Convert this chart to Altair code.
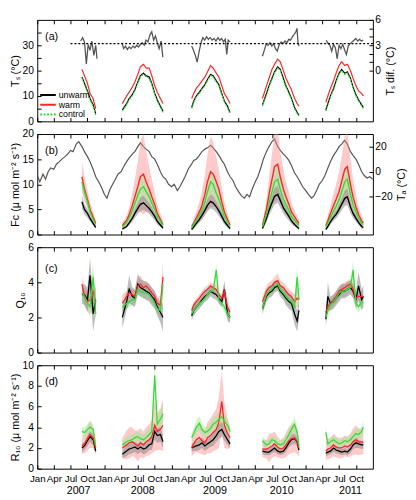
import altair as alt
import pandas as pd

# ---------------- data ----------------
SEASON_DATES = [
    "2007-09-01", "2007-09-15", "2007-10-01", "2007-10-15", "2007-11-01", "2007-11-15",
    "2008-04-08", "2008-05-01", "2008-05-15", "2008-06-01", "2008-06-15", "2008-07-01", "2008-07-15",
    "2008-08-01", "2008-08-15", "2008-09-01", "2008-09-15", "2008-10-01", "2008-10-15", "2008-11-01", "2008-11-15",
    "2009-04-20", "2009-05-01", "2009-05-15", "2009-06-01", "2009-06-15", "2009-07-01", "2009-07-15",
    "2009-08-01", "2009-08-15", "2009-09-01", "2009-09-15", "2009-10-01", "2009-10-15", "2009-11-01", "2009-11-15",
    "2010-05-10", "2010-06-01", "2010-06-15", "2010-07-01", "2010-07-15", "2010-08-01", "2010-08-15",
    "2010-09-01", "2010-09-15", "2010-10-01", "2010-10-15", "2010-11-01", "2010-11-15", "2010-11-25",
    "2011-04-20", "2011-05-01", "2011-05-15", "2011-06-01", "2011-06-15", "2011-07-01", "2011-07-15",
    "2011-08-01", "2011-08-15", "2011-09-01", "2011-09-15", "2011-10-01", "2011-10-15", "2011-11-01", "2011-11-10",
]

# (a) soil temperature
TS_WARM = [20.5, 18, 15, 11, 9, 5,
           7, 10, 11.5, 13.5, 15.5, 18.5, 21.5, 22.5, 21, 21, 18, 14, 11.5, 9, 7,
           9, 11, 13, 14.5, 16, 17.5, 19.5, 22, 21, 19, 17.5, 14, 11, 9, 7,
           9, 14, 17, 20.5, 22.5, 24.5, 23.5, 20, 17, 14.5, 12.5, 9, 7, 6,
           7.5, 10, 13, 16, 19, 22, 23.5, 22, 22.5, 20, 17, 14, 12, 11, 10]
TS_UNWARM = [17.5, 15, 12, 9, 6.5, 3,
             4.5, 7, 9, 10.5, 12.5, 15.5, 18, 19, 18, 17.5, 15, 11, 8.5, 6, 4,
             5.5, 8, 10, 11.5, 13, 14.5, 16.5, 18.5, 18, 16, 14.5, 11, 8, 6, 3.5,
             6.5, 11, 14, 17, 19.5, 21.5, 20.5, 17, 14, 11.5, 9, 5.5, 3.5, 2.5,
             4.5, 7, 10, 13, 16, 19, 20.5, 19, 19.5, 17, 13.5, 10.5, 8.5, 6.5, 5.5]
TS_CONTROL = [17, 14.5, 11.5, 8.5, 6, 2.5,
              4, 6.5, 8.5, 10, 12, 15, 17.5, 18.5, 17.5, 17, 14.5, 10.5, 8, 5.5, 3.5,
              5, 7.5, 9.5, 11, 12.5, 14, 16, 18, 17.5, 15.5, 14, 10.5, 7.5, 5.5, 3,
              6, 10.5, 13.5, 16.5, 19, 21, 20, 16.5, 13.5, 11, 8.5, 5, 3, 2,
              4, 6.5, 9.5, 12.5, 15.5, 18.5, 20, 18.5, 19, 16.5, 13, 10, 8, 6, 5]

TSDIF_DATES = [
    "2007-08-25", "2007-09-05", "2007-09-15", "2007-09-25", "2007-10-05", "2007-10-15", "2007-10-25",
    "2007-11-05", "2007-11-15", "2007-11-22",
    "2008-04-06", "2008-04-15", "2008-04-25", "2008-05-05", "2008-05-15", "2008-05-25", "2008-06-05",
    "2008-06-15", "2008-06-25", "2008-07-05", "2008-07-15", "2008-07-25", "2008-08-05", "2008-08-15",
    "2008-08-25", "2008-09-05", "2008-09-15", "2008-09-25", "2008-10-05", "2008-10-15", "2008-10-25",
    "2008-11-05", "2008-11-14",
    "2009-04-20", "2009-04-30", "2009-05-10", "2009-05-20", "2009-05-30", "2009-06-10", "2009-06-20",
    "2009-06-30", "2009-07-10", "2009-07-20", "2009-07-30", "2009-08-10", "2009-08-20", "2009-08-30",
    "2009-09-10", "2009-09-20", "2009-09-30", "2009-10-10", "2009-10-20", "2009-10-28", "2009-11-05",
    "2009-11-15",
    "2010-05-10", "2010-05-20", "2010-05-30", "2010-06-10", "2010-06-20", "2010-06-30", "2010-07-10",
    "2010-07-20", "2010-07-30", "2010-08-10", "2010-08-20", "2010-08-30", "2010-09-10", "2010-09-20",
    "2010-09-30", "2010-10-10", "2010-10-20", "2010-10-30", "2010-11-08", "2010-11-14", "2010-11-20",
    "2010-11-26",
    "2011-04-22", "2011-05-02", "2011-05-12", "2011-05-22", "2011-06-01", "2011-06-11", "2011-06-21",
    "2011-07-01", "2011-07-11", "2011-07-21", "2011-08-01", "2011-08-10", "2011-08-20", "2011-08-30",
    "2011-09-10", "2011-09-20", "2011-09-30", "2011-10-10", "2011-10-20", "2011-10-30", "2011-11-09",
]
TSDIF_VALUES = [
    3.5, 3.9, 3.4, 0.8, 3.1, 2.4, 3.5, 1.8, 3.0, 1.4,
    3.3, 2.6, 2.9, 2.5, 2.8, 2.6, 2.9, 2.7, 3.0, 2.8, 3.1, 3.3, 3.0, 3.6, 3.4, 4.2, 4.6, 3.6, 4.1,
    3.3, 2.6, 3.5, 1.6,
    2.9, 2.4, 1.8, 1.0, 2.2, 3.3, 3.9, 3.6, 4.0, 3.7, 3.9, 3.6, 3.8, 3.5, 3.9, 3.6, 3.8, 3.4, 3.7,
    1.9, 3.6, 3.4,
    1.7, 2.4, 3.1, 3.0, 3.3, 2.9, 3.2, 2.6, 2.3, 3.1, 3.4, 3.2, 3.5, 3.3, 3.7, 3.6, 4.0, 4.3, 4.6,
    5.0, 3.2, 2.9,
    3.6, 3.2, 3.0, 2.3, 3.1, 2.7, 1.4, 3.0, 2.6, 3.1, 2.4, 1.9, 2.9, 3.2, 3.4, 3.6, 3.8, 3.5, 3.7,
    3.5, 3.6,
]
DOTTED_LEVEL = 3.2
DOTTED_FROM = "2007-07-01"
DOTTED_TO = "2012-01-01"

# (b) CO2 efflux and air temperature
FC_WARM = [11.5, 9, 7, 5, 3.5, 2.2,
           1.8, 2.8, 4, 5.8, 7.5, 9.5, 11.5, 12, 10.5, 9, 7.5, 6, 4.2, 3, 2,
           1.6, 2.3, 3.3, 4.5, 5.8, 8, 10.5, 12.5, 12, 10.5, 9, 6.5, 4.5, 3, 1.9,
           1.8, 5, 8, 11, 13.5, 14, 11.5, 9, 7.5, 6, 4.5, 3.5, 2.7, 2.2,
           1.8, 2.8, 4.2, 5.8, 7, 8.5, 10.5, 13, 13.5, 10, 7.5, 5.5, 4, 2.7, 2.3]
FC_CONTROL = [10.5, 8.5, 6.5, 4.5, 3, 2,
              1.5, 2.4, 3.3, 4.8, 6.2, 7.8, 9, 9.5, 8.6, 7.5, 6.3, 5, 3.6, 2.6, 1.8,
              1.3, 2, 2.8, 3.8, 4.8, 6.5, 8.5, 10.5, 10, 8.2, 7, 5.2, 3.6, 2.5, 1.6,
              1.5, 4, 6.2, 8.5, 10.5, 11, 9, 7, 6, 4.8, 3.6, 2.8, 2.2, 1.8,
              1.5, 2.3, 3.4, 4.6, 5.6, 6.9, 8.5, 10.5, 11, 8, 6, 4.5, 3.3, 2.3, 2]
FC_UNWARM = [6.5, 5, 4.2, 3.2, 2.2, 1.4,
             1.1, 1.6, 2.3, 3.2, 4.2, 5.2, 6, 6.3, 5.8, 5.2, 4.5, 3.6, 2.6, 1.9, 1.3,
             1.0, 1.5, 2.2, 3, 3.8, 4.8, 5.8, 6.6, 6.3, 5.5, 4.7, 3.6, 2.6, 1.8, 1.2,
             1.2, 3.2, 4.8, 6.3, 7.6, 8, 6.8, 5.3, 4.5, 3.6, 2.7, 2, 1.5, 1.2,
             1.0, 1.6, 2.5, 3.4, 4, 5, 6, 7.2, 7.5, 5.5, 4.2, 3.2, 2.4, 1.6, 1.4]
FC_WARM_ERR = [3, 2.5, 2, 1.5, 1, 0.6,
               0.6, 1, 1.5, 2.5, 3.5, 5, 7, 8, 6, 4.5, 3.5, 2.5, 1.8, 1.2, 0.8,
               0.5, 0.8, 1.2, 2, 2.8, 4, 5.5, 7, 6.5, 5, 4, 2.8, 2, 1.2, 0.7,
               0.6, 2, 3.5, 5, 7, 7, 5, 4, 3, 2.5, 1.8, 1.3, 1, 0.8,
               0.6, 1, 1.6, 2.4, 3, 4, 5, 6.5, 7, 5, 3.5, 2.5, 1.6, 1, 0.8]
FC_CONTROL_ERR = [1.8, 1.4, 1, 0.8, 0.5, 0.3,
                  0.3, 0.5, 0.7, 1, 1.4, 1.8, 2.2, 2.4, 2, 1.7, 1.4, 1.1, 0.8, 0.5, 0.4,
                  0.3, 0.4, 0.6, 0.8, 1.1, 1.5, 2, 2.6, 2.4, 2, 1.6, 1.2, 0.8, 0.5, 0.3,
                  0.3, 0.9, 1.4, 2, 2.5, 2.6, 2.1, 1.6, 1.3, 1.1, 0.8, 0.6, 0.5, 0.4,
                  0.3, 0.5, 0.8, 1, 1.3, 1.6, 2, 2.5, 2.6, 1.8, 1.3, 1, 0.7, 0.5, 0.4]
FC_UNWARM_ERR = [1.3, 1, 0.8, 0.6, 0.4, 0.3,
                 0.2, 0.3, 0.5, 0.7, 0.9, 1.1, 1.3, 1.4, 1.2, 1.1, 1, 0.8, 0.6, 0.4, 0.3,
                 0.2, 0.3, 0.5, 0.6, 0.8, 1, 1.2, 1.4, 1.3, 1.1, 1, 0.8, 0.6, 0.4, 0.3,
                 0.3, 0.7, 1, 1.3, 1.6, 1.7, 1.4, 1.1, 1, 0.8, 0.6, 0.4, 0.3, 0.3,
                 0.2, 0.4, 0.5, 0.7, 0.8, 1, 1.2, 1.5, 1.6, 1.2, 0.9, 0.7, 0.5, 0.4, 0.3]

TA_DATES = [f"{y}-{m:02d}-{d:02d}" for y in range(2007, 2012) for m in range(1, 13) for d in (1, 15)] + ["2011-12-31"]
TA_VALUES = [
    -3, -8, -2, -6, 0, 3, 2, 6, 8, 10, 12, 14, 17, 16, 22, 24, 20, 16, 12, 8, 2, -4, -8, -12,
    -18, -21, -14, -10, -6, -2, 0, 4, 8, 11, 14, 16, 20, 23, 20, 18, 16, 12, 10, 6, 0, -4, -6, -10,
    -12, -10, -15, -12, -8, -4, 2, 5, 9, 10, 13, 16, 18, 19, 21, 19, 16, 13, 9, 6, 0, -4, -7, -12,
    -16, -19, -21, -18, -20, -14, -8, -4, 3, 10, 16, 20, 24, 26, 20, 17, 14, 12, 9, 5, -1, -4, -8, -12,
    -15, -18, -21, -19, -15, -10, -7, -3, 3, 8, 13, 16, 20, 22, 25, 22, 16, 13, 10, 6, 0, -3, -5, -4,
    -6,
]

# (c) Q10
Q_WARM = [3.9, 3.2, 2.9, 3.0, 3.5, 2.8,
          2.8, 3.2, 3.4, 3.3, 3.2, 3.8, 3.9, 3.7, 3.8, 3.6, 3.4, 3.2, 2.8, 2.7, 4.3,
          2.4, 2.7, 2.9, 3.1, 3.3, 3.5, 3.6, 3.8, 3.7, 3.6, 3.3, 3.1, 3.5, 2.6, 2.3,
          2.9, 3.5, 3.7, 3.8, 4.0, 4.1, 3.8, 3.7, 3.5, 3.3, 3.2, 2.9, 3.1, 3.0,
          2.3, 2.6, 2.8, 3.0, 3.2, 3.5, 3.6, 3.7, 3.8, 3.9, 3.6, 3.1, 3.2, 3.2, 3.2]
Q_CONTROL = [3.4, 3.2, 2.8, 2.6, 4.3, 2.2,
             2.6, 2.8, 2.9, 3.0, 3.0, 3.6, 3.5, 3.4, 3.4, 3.3, 3.1, 2.8, 2.5, 2.4, 3.9,
             2.2, 2.4, 2.6, 2.8, 2.9, 3.1, 3.3, 3.5, 3.5, 4.7, 3.0, 2.8, 2.6, 2.2, 2.0,
             2.5, 3.3, 3.5, 3.6, 3.8, 3.9, 3.6, 3.4, 3.2, 3.0, 2.9, 2.6, 4.3, 3.0,
             2.0, 2.4, 2.7, 2.9, 3.1, 3.4, 3.5, 3.5, 3.6, 3.7, 4.7, 2.8, 2.6, 2.9, 2.8]
Q_UNWARM = [3.3, 3.3, 3.0, 4.4, 2.2, 3.0,
            2.0, 2.9, 3.6, 3.2, 3.1, 3.9, 3.7, 3.6, 3.5, 3.4, 3.2, 3.0, 2.6, 2.3, 2.0,
            2.1, 2.4, 2.6, 2.8, 3.0, 3.2, 3.3, 3.5, 3.4, 3.3, 3.1, 2.9, 3.6, 2.2, 2.0,
            2.5, 3.2, 3.4, 3.5, 3.7, 3.8, 3.5, 3.3, 3.1, 2.9, 2.8, 2.2, 1.8, 2.4,
            1.9, 3.2, 2.8, 2.9, 3.1, 3.3, 3.5, 3.5, 3.6, 3.7, 3.5, 3.0, 3.8, 3.0, 3.2]
Q_WARM_ERR = [0.4, 0.5, 0.5, 0.8, 1.0, 0.6,
              0.5, 0.3, 0.3, 0.3, 0.3, 0.4, 0.5, 0.3, 0.3, 0.3, 0.3, 0.3, 0.4, 0.5, 0.9,
              0.2, 0.2, 0.2, 0.2, 0.2, 0.2, 0.2, 0.2, 0.2, 0.3, 0.2, 0.2, 0.4, 0.3, 0.3,
              0.3, 0.3, 0.3, 0.3, 0.3, 0.4, 0.3, 0.3, 0.3, 0.3, 0.3, 0.4, 0.5, 0.4,
              0.3, 0.3, 0.3, 0.3, 0.3, 0.3, 0.3, 0.3, 0.3, 0.3, 0.4, 0.3, 0.3, 0.3, 0.3]
Q_CONTROL_ERR = [0.3, 0.4, 0.4, 0.6, 0.8, 0.5,
                 0.4, 0.3, 0.3, 0.3, 0.3, 0.3, 0.3, 0.3, 0.3, 0.3, 0.3, 0.3, 0.3, 0.4, 0.6,
                 0.2, 0.2, 0.2, 0.2, 0.2, 0.2, 0.2, 0.2, 0.2, 0.4, 0.2, 0.2, 0.3, 0.3, 0.3,
                 0.3, 0.3, 0.3, 0.3, 0.3, 0.3, 0.3, 0.3, 0.3, 0.3, 0.3, 0.4, 0.6, 0.4,
                 0.3, 0.3, 0.3, 0.3, 0.3, 0.3, 0.3, 0.3, 0.3, 0.3, 0.6, 0.3, 0.3, 0.3, 0.3]
Q_UNWARM_ERR = [0.5, 0.6, 0.7, 1.0, 1.0, 0.8,
                0.6, 0.5, 0.8, 0.5, 0.5, 0.6, 0.5, 0.5, 0.5, 0.5, 0.5, 0.5, 0.5, 0.6, 0.8,
                0.3, 0.3, 0.3, 0.3, 0.3, 0.3, 0.3, 0.3, 0.3, 0.3, 0.3, 0.3, 0.5, 0.4, 0.3,
                0.3, 0.3, 0.3, 0.3, 0.3, 0.3, 0.3, 0.3, 0.4, 0.4, 0.4, 0.6, 0.6, 0.5,
                0.4, 0.8, 0.4, 0.4, 0.4, 0.4, 0.4, 0.4, 0.4, 0.4, 0.4, 0.5, 0.8, 0.6, 0.6]

# (d) R10
R_WARM = [2.2, 2.4, 2.9, 3.3, 3.0, 2.0,
          2.0, 2.3, 2.5, 2.6, 2.4, 2.2, 2.5, 2.3, 2.6, 2.8, 3.1, 4.2, 3.6, 3.8, 4.2,
          2.0, 2.4, 2.8, 3.0, 2.7, 2.5, 3.0, 3.2, 3.5, 3.8, 4.5, 6.5, 4.2, 3.4, 3.0,
          1.9, 1.9, 2.0, 2.2, 2.4, 2.1, 1.9, 2.0, 2.3, 2.7, 2.9, 3.0, 2.6, 2.0,
          1.7, 1.9, 2.0, 2.3, 2.1, 2.0, 2.0, 2.2, 2.1, 2.3, 2.6, 2.8, 2.6, 2.6, 2.5]
R_CONTROL = [3.6, 3.5, 3.8, 4.0, 3.8, 2.2,
             2.3, 2.6, 2.7, 2.8, 3.0, 3.1, 2.9, 2.8, 3.0, 3.3, 3.6, 9.0, 4.3, 4.8, 5.3,
             3.0, 3.4, 4.0, 4.4, 3.8, 3.5, 3.6, 3.9, 4.3, 4.5, 4.8, 5.0, 4.6, 4.2, 3.6,
             2.7, 2.3, 2.4, 2.8, 2.7, 2.4, 2.3, 2.4, 2.8, 3.3, 3.8, 4.3, 3.5, 2.2,
             3.5, 2.4, 2.6, 2.8, 2.6, 2.4, 2.5, 2.7, 2.6, 2.8, 3.1, 3.4, 3.3, 3.6, 4.0]
R_UNWARM = [2.0, 2.2, 2.7, 3.1, 2.8, 1.7,
            1.4, 1.7, 1.9, 2.0, 2.1, 1.9, 2.1, 1.9, 2.0, 2.3, 2.4, 3.6, 3.2, 3.3, 2.6,
            2.0, 2.1, 2.2, 2.3, 2.5, 2.2, 2.4, 2.6, 2.8, 3.2, 3.6, 3.8, 3.3, 2.8, 2.4,
            1.7, 1.6, 1.6, 1.8, 2.0, 1.7, 1.6, 1.7, 2.0, 2.5, 2.8, 2.9, 2.6, 1.8,
            1.5, 1.6, 1.7, 2.0, 1.8, 1.7, 1.6, 1.7, 1.6, 1.9, 2.3, 2.5, 2.4, 2.3, 2.3]
R_WARM_ERR = [0.8, 0.9, 1.2, 1.3, 1.0, 0.6,
              1.0, 1.4, 1.5, 1.4, 1.3, 1.5, 1.4, 1.3, 1.4, 1.5, 1.6, 2.5, 1.8, 2.0, 2.5,
              0.8, 1.0, 1.2, 1.5, 1.3, 1.2, 1.5, 1.7, 1.8, 2.0, 2.5, 3.0, 2.2, 1.5, 1.0,
              0.8, 0.9, 1.4, 1.2, 1.2, 1.0, 0.9, 1.0, 1.2, 1.3, 1.4, 1.4, 1.2, 0.8,
              0.9, 1.0, 1.0, 1.1, 1.0, 1.0, 1.0, 1.0, 1.0, 1.1, 1.3, 1.4, 1.3, 1.2, 1.1]
R_CONTROL_ERR = [0.4, 0.5, 0.5, 0.6, 0.5, 0.3,
                 0.4, 0.5, 0.5, 0.5, 0.5, 0.5, 0.5, 0.5, 0.5, 0.6, 0.7, 1.0, 0.8, 0.9, 1.0,
                 0.4, 0.5, 0.6, 0.7, 0.6, 0.5, 0.5, 0.6, 0.6, 0.7, 0.7, 0.8, 0.7, 0.6, 0.5,
                 0.4, 0.4, 0.4, 0.4, 0.4, 0.4, 0.4, 0.4, 0.4, 0.5, 0.6, 0.7, 0.6, 0.4,
                 0.5, 0.4, 0.4, 0.4, 0.4, 0.4, 0.4, 0.4, 0.4, 0.4, 0.5, 0.5, 0.5, 0.5, 0.6]
R_UNWARM_ERR = [0.4, 0.4, 0.5, 0.5, 0.5, 0.3,
                0.4, 0.5, 0.5, 0.5, 0.5, 0.5, 0.5, 0.5, 0.5, 0.5, 0.6, 0.8, 0.7, 0.7, 0.6,
                0.4, 0.4, 0.5, 0.5, 0.5, 0.5, 0.5, 0.5, 0.6, 0.6, 0.7, 0.7, 0.6, 0.5, 0.4,
                0.3, 0.3, 0.3, 0.3, 0.4, 0.3, 0.3, 0.3, 0.4, 0.4, 0.5, 0.5, 0.4, 0.3,
                0.3, 0.3, 0.3, 0.4, 0.3, 0.3, 0.3, 0.3, 0.3, 0.4, 0.4, 0.5, 0.4, 0.4, 0.4]

TREATMENTS = ["unwarm", "warm", "control"]
PANEL_LABELS = ["(a)", "(b)", "(c)", "(d)"]
YEAR_LABELS = ["2007", "2008", "2009", "2010", "2011"]
YEAR_LABEL_DATES = ["2007-08-14", "2008-07-28", "2009-08-25", "2010-08-23", "2011-09-01"]

# ---------------- styling ----------------
LINE_COLORS = ["#000000", "#ff2424", "#33dd33"]
BAND_STYLE = [("warm", "#ff8a8a", 0.45), ("control", "#8fe88f", 0.45), ("unwarm", "#8a8a8a", 0.55)]
GRAY = "#555555"
FONT = "Liberation Sans"
W = 344
H_A, H_B, H_C, H_D = 104, 103, 108, 106


def panel_frame(unwarm, warm, control, unwarm_err=None, warm_err=None, control_err=None):
    rows = []
    for name, vals, errs in (("unwarm", unwarm, unwarm_err), ("warm", warm, warm_err),
                             ("control", control, control_err)):
        assert len(vals) == len(SEASON_DATES)
        for i, d in enumerate(SEASON_DATES):
            e = errs[i] if errs is not None else 0.0
            rows.append({"date": d, "season": d[:4], "treatment": name, "value": vals[i],
                         "lo": max(vals[i] - e, 0.0), "hi": vals[i] + e})
    return pd.DataFrame(rows)


X_SCALE = alt.Scale(type="utc", nice=False,
                    domain=[alt.DateTime(year=2007, month=1, date=1, utc=True),
                            alt.DateTime(year=2012, month=1, date=1, utc=True)])
QUARTER_TICKS = [alt.DateTime(year=y, month=m, date=1, utc=True)
                 for y in range(2007, 2012) for m in (1, 4, 7, 10)]


def x_axis(orient, labels=False):
    kw = dict(orient=orient, values=QUARTER_TICKS, tickSize=4, offset=-4, domain=False,
              grid=False, title=None, labels=labels)
    if labels:
        kw.update(labelExpr="utcFormat(datum.value, '%b')", labelPadding=5, labelFontSize=10,
                  labelFlush=False, labelOverlap=False)
    return alt.Axis(**kw)


def y_axis(orient, title, values, expr=None):
    kw = dict(orient=orient, values=values, tickSize=4, offset=-4, domain=False, grid=False,
              title=title, labelFlush=False)
    if orient == "left":
        kw.update(labelPadding=4, titlePadding=2)
    else:
        kw.update(labelPadding=2, titlePadding=4, titleAngle=270, titleBaseline="top")
    if expr:
        kw["labelExpr"] = expr
    return alt.Axis(**kw)


def yscale(lo, hi):
    return alt.Scale(domain=[lo, hi], nice=False, zero=False)


def band_layers(df, lo, hi, first_top_axis=True):
    out = []
    for k, (name, col, op) in enumerate(BAND_STYLE):
        ax = x_axis("top") if (k == 0 and first_top_axis) else None
        out.append(alt.Chart(df).transform_filter(alt.datum.treatment == name)
                   .mark_area(color=col, opacity=op, clip=True).encode(
            x=alt.X("date:T", scale=X_SCALE, axis=ax),
            y=alt.Y("lo:Q", scale=yscale(lo, hi), axis=None),
            y2="hi:Q",
            detail="season:N"))
    return out


def line_layer(df, lo, hi, yax, xax, width=1.3, legend=None, dashed=False):
    enc = dict(
        x=alt.X("date:T", scale=X_SCALE, axis=xax),
        y=alt.Y("value:Q", scale=yscale(lo, hi), axis=yax),
        color=alt.Color("treatment:N", scale=alt.Scale(domain=TREATMENTS, range=LINE_COLORS),
                        legend=legend),
        detail="season:N")
    if dashed:
        enc["strokeDash"] = alt.StrokeDash("treatment:N",
                                           scale=alt.Scale(domain=TREATMENTS,
                                                           range=[[1, 0], [1, 0], [2, 1.5]]),
                                           legend=legend)
    return alt.Chart(df).mark_line(strokeWidth=width, clip=True).encode(**enc)


def label_layer(text, y):
    return alt.Chart(pd.DataFrame({"t": [text]})).mark_text(
        align="left", baseline="middle", fontSize=11, font=FONT, color="black").encode(
        x=alt.value(8), y=alt.value(y), text="t:N")


# ---------------- panel (a) ----------------
ts_df = panel_frame(TS_UNWARM, TS_WARM, TS_CONTROL)
tsdif_df = pd.DataFrame({"date": TSDIF_DATES, "value": TSDIF_VALUES})
tsdif_df["season"] = tsdif_df["date"].str[:4]
dotted_df = pd.DataFrame({"start": [DOTTED_FROM], "end": [DOTTED_TO], "level": [DOTTED_LEVEL]})

# short symbol "size" keeps rows tight; the custom path draws a 16 px long line
legend = alt.Legend(orient="none", legendX=2, legendY=72, title=None, symbolType="M-1,0H3",
                    symbolSize=64, symbolStrokeWidth=2, labelFontSize=9, labelOffset=10,
                    rowPadding=0, padding=0, labelFont=FONT)

a_dif = alt.Chart(tsdif_df).mark_line(color=GRAY, strokeWidth=1.3, clip=True).encode(
    x=alt.X("date:T", scale=X_SCALE, axis=x_axis("top")),
    y=alt.Y("value:Q", scale=yscale(-6, 6),
            axis=y_axis("right", "Tₛ dif. (°C)", [0, 1, 2, 3, 4, 5, 6],
                        "datum.value % 3 == 0 ? datum.label : ''")),
    detail="season:N")
a_dot = alt.Chart(dotted_df).mark_rule(color="black", strokeDash=[2, 2], strokeWidth=1.4).encode(
    x=alt.X("start:T", scale=X_SCALE, axis=None), x2="end:T",
    y=alt.Y("level:Q", scale=yscale(-6, 6), axis=None))
a_lines = line_layer(ts_df, 0, 40,
                     y_axis("left", "Tₛ (°C)", [0, 5, 10, 15, 20, 25, 30, 35],
                            "datum.value % 10 == 0 ? datum.label : ''"),
                     x_axis("bottom"), width=1.2, legend=legend, dashed=True)
panel_a = alt.layer(a_dif, a_dot, a_lines, label_layer(PANEL_LABELS[0], 18)).resolve_scale(
    y="independent").resolve_axis(x="independent", y="independent").properties(width=W, height=H_A)

# ---------------- panel (b) ----------------
fc_df = panel_frame(FC_UNWARM, FC_WARM, FC_CONTROL, FC_UNWARM_ERR, FC_WARM_ERR, FC_CONTROL_ERR)
ta_df = pd.DataFrame({"date": TA_DATES, "value": TA_VALUES})
b_ta = alt.Chart(ta_df).mark_line(color=GRAY, strokeWidth=1.2, clip=True).encode(
    x=alt.X("date:T", scale=X_SCALE, axis=x_axis("top")),
    y=alt.Y("value:Q", scale=yscale(-50, 30), axis=y_axis("right", "Tₐ (°C)", [-20, 0, 20])))
b_lines = line_layer(fc_df, 0, 20, y_axis("left", "Fc (μ mol m⁻² s⁻¹)", [0, 5, 10, 15, 20]),
                     x_axis("bottom"), width=1.4)
panel_b = alt.layer(b_ta, *band_layers(fc_df, 0, 20, first_top_axis=False), b_lines,
                    label_layer(PANEL_LABELS[1], 17)).resolve_scale(y="independent").resolve_axis(
    x="independent", y="independent").properties(width=W, height=H_B)

# ---------------- panel (c) ----------------
q_df = panel_frame(Q_UNWARM, Q_WARM, Q_CONTROL, Q_UNWARM_ERR, Q_WARM_ERR, Q_CONTROL_ERR)
c_lines = line_layer(q_df, 0, 6, y_axis("left", "Q₁₀", [0, 2, 4, 6]), x_axis("bottom"), width=1.3)
panel_c = alt.layer(*band_layers(q_df, 0, 6), c_lines, label_layer(PANEL_LABELS[2], 22)).resolve_scale(
    y="independent").resolve_axis(x="independent", y="independent").properties(width=W, height=H_C)

# ---------------- panel (d) ----------------
r_df = panel_frame(R_UNWARM, R_WARM, R_CONTROL, R_UNWARM_ERR, R_WARM_ERR, R_CONTROL_ERR)
d_lines = line_layer(r_df, 0, 10, y_axis("left", "R₁₀ (μ mol m⁻² s⁻¹)", [0, 2, 4, 6, 8, 10]),
                     x_axis("bottom", labels=True), width=1.3)
years_df = pd.DataFrame({"date": YEAR_LABEL_DATES, "year": YEAR_LABELS})
d_years = alt.Chart(years_df).mark_text(fontSize=11, font=FONT, baseline="middle", color="black").encode(
    x=alt.X("date:T", scale=X_SCALE, axis=None), y=alt.value(H_D + 23), text="year:N")
panel_d = alt.layer(*band_layers(r_df, 0, 10), d_lines, label_layer(PANEL_LABELS[3], 17),
                    d_years).resolve_scale(y="independent").resolve_axis(
    x="independent", y="independent").properties(width=W, height=H_D)

chart = alt.vconcat(panel_a, panel_b, panel_c, panel_d, spacing=13, bounds="flush",
                    padding=0).resolve_scale(color="independent", strokeDash="independent")
chart = chart.configure_axis(
    labelFont=FONT, titleFont=FONT, labelFontSize=10.5, titleFontSize=11,
    titleFontWeight="normal", labelColor="black", titleColor="black", tickColor="black",
    tickWidth=1, labelFlush=False
).configure_view(stroke="black", strokeWidth=1).configure_legend(labelFont=FONT, labelColor="black")

chart.save("out.html", embed_options={"renderer": "svg", "actions": False})
